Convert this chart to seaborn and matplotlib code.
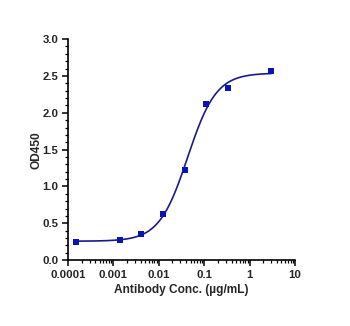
import numpy as np
import pandas as pd
import matplotlib
matplotlib.use("Agg")
import matplotlib.pyplot as plt
import seaborn as sns
from matplotlib.ticker import LogLocator, NullFormatter, MultipleLocator, FixedLocator

# Data
conc = [0.000152, 0.00137, 0.00412, 0.0123, 0.037, 0.111, 0.333, 3.0]
od450 = [0.24, 0.28, 0.35, 0.62, 1.23, 2.12, 2.33, 2.57]
x_ticks = [0.0001, 0.001, 0.01, 0.1, 1, 10]
x_tick_labels = ["0.0001", "0.001", "0.01", "0.1", "1", "10"]
y_ticks = [0.0, 0.5, 1.0, 1.5, 2.0, 2.5, 3.0]

df = pd.DataFrame({"conc": conc, "od": od450})

# 4PL fit from the data (simple Gauss-Newton with numpy)
def f4(p, x):
    bot, top, lec, h = p
    return bot + (top - bot) / (1 + 10 ** ((lec - np.log10(x)) * h))

x = np.array(conc); y = np.array(od450)
p = np.array([0.25, 2.55, np.log10(0.045), 1.3])
for _ in range(200):
    r = y - f4(p, x)
    J = np.zeros((len(x), 4))
    for i in range(4):
        dp = np.zeros(4); dp[i] = 1e-6
        J[:, i] = (f4(p + dp, x) - f4(p, x)) / 1e-6
    step = np.linalg.lstsq(J, r, rcond=None)[0]
    p = p + 0.5 * step
xs = np.logspace(np.log10(min(conc)), np.log10(max(conc)), 300)
fit = pd.DataFrame({"conc": xs, "od": f4(p, xs)})

sns.set_style("ticks")
plt.rcParams["font.family"] = ["Liberation Sans", "DejaVu Sans"]

fig = plt.figure(figsize=(3.5, 3.26), dpi=100)
ax = fig.add_axes([0.194, 0.202, 0.649, 0.678])
sns.lineplot(data=fit, x="conc", y="od", ax=ax, color="#1a1a8c", linewidth=1.2)
sns.scatterplot(data=df, x="conc", y="od", ax=ax, marker="s", s=20,
                color="#0a14b4", edgecolor="#0a14b4", linewidth=0, zorder=3)
ax.set_xscale("log")
ax.set_xlim(1e-4, 10)
ax.set_ylim(0, 3.0)
ax.xaxis.set_major_locator(FixedLocator(x_ticks))
ax.set_xticklabels(x_tick_labels)
ax.xaxis.set_minor_locator(LogLocator(base=10, subs=np.arange(2, 10)))
ax.xaxis.set_minor_formatter(NullFormatter())
ax.set_yticks(y_ticks)
ax.set_yticklabels([f"{v:.1f}" for v in y_ticks])
ax.yaxis.set_minor_locator(MultipleLocator(0.1))
for s in ["top", "right"]:
    ax.spines[s].set_visible(False)
for s in ["left", "bottom"]:
    ax.spines[s].set_linewidth(1.2)
    ax.spines[s].set_color("black")
ax.tick_params(axis="both", which="major", length=4, width=1.1, labelsize=8.2, pad=3, color="black")
ax.tick_params(axis="both", which="minor", length=2, width=0.9, color="black")
for lab in ax.get_xticklabels() + ax.get_yticklabels():
    lab.set_fontweight("bold")
ax.set_xlabel("Antibody Conc. (µg/mL)", fontsize=8.6, fontweight="bold", labelpad=3)
ax.set_ylabel("OD450", fontsize=8.6, fontweight="bold", labelpad=0)
fig.savefig("out.png", dpi=100, facecolor="white")
